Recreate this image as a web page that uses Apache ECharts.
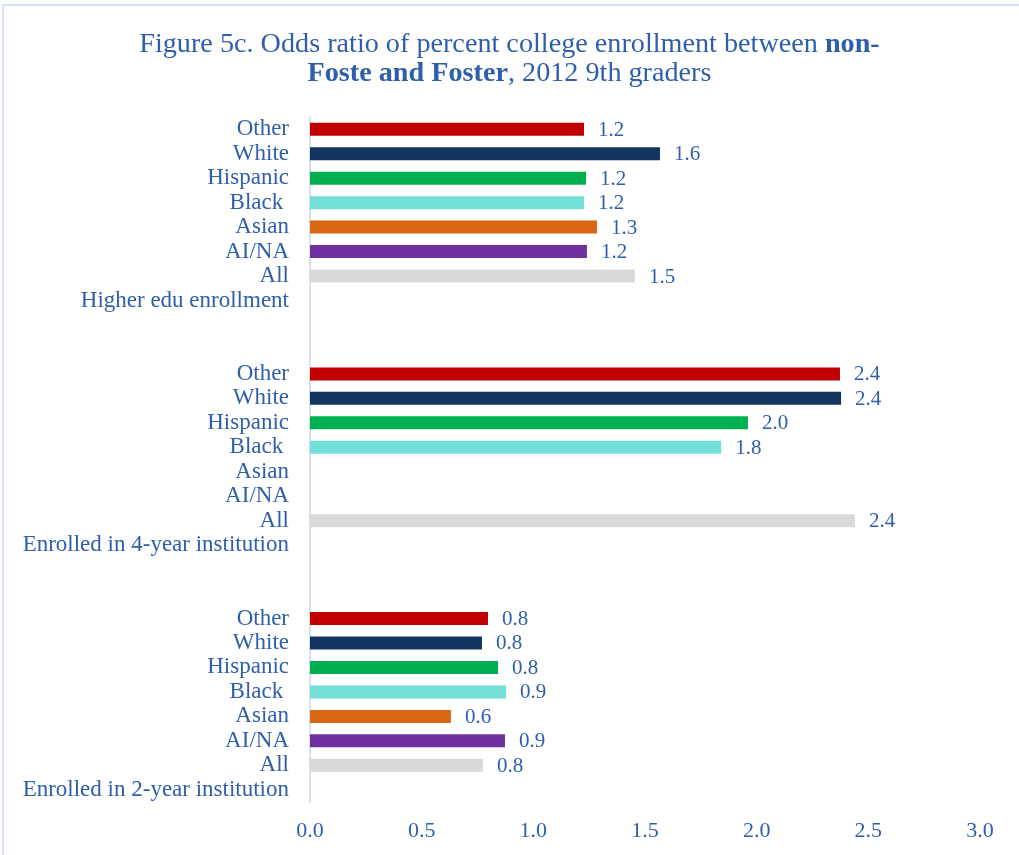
<!DOCTYPE html>
<html>
<head>
<meta charset="utf-8">
<script src="https://cdn.jsdelivr.net/npm/echarts@6/dist/echarts.min.js"></script>
<style>
html,body{margin:0;padding:0;background:#fff;}
#main{width:1019px;height:855px;}
</style>
</head>
<body>
<div id="main"></div>
<script>
// Data (top to bottom as drawn)
const groups = ['Higher edu enrollment', 'Enrolled in 4-year institution', 'Enrolled in 2-year institution'];
const races = ['Other', 'White', 'Hispanic', 'Black ', 'Asian', 'AI/NA', 'All'];
const higherEdu = [1.227, 1.567, 1.236, 1.227, 1.285, 1.240, 1.455];
const fourYear = [2.373, 2.378, 1.961, 1.841, null, null, 2.44];
const twoYear = [0.797, 0.770, 0.842, 0.878, 0.631, 0.873, 0.775];
const xTicks = [0.0, 0.5, 1.0, 1.5, 2.0, 2.5, 3.0];

const raceColors = {
  'Other': '#C00000', 'White': '#12345F', 'Hispanic': '#00B050', 'Black ': '#72E0D7',
  'Asian': '#D86613', 'AI/NA': '#7030A0', 'All': '#D9D9D9'
};
const textColor = '#2F5FAA';
const font = 'Liberation Serif';

const groupValues = [higherEdu, fourYear, twoYear];
const cats = [];
const barData = [];
groups.forEach((g, gi) => {
  if (gi > 0) { cats.push(''); barData.push(null); cats.push(' '); barData.push(null); }
  races.forEach((r, ri) => {
    cats.push(r);
    const v = groupValues[gi][ri];
    barData.push(v == null ? null : { value: v, itemStyle: { color: raceColors[r] } });
  });
  cats.push(g); barData.push(null);
});

const chart = echarts.init(document.getElementById('main'));
chart.setOption({
  backgroundColor: '#fff',
  animation: false,
  graphic: [{
    type: 'rect', shape: { x: 3, y: 5, width: 1100, height: 1000 },
    style: { fill: 'none', stroke: '#DAE3F3', lineWidth: 2 }, z: -10
  }],
  title: {
    left: 'center', top: 25,
    text: '{n|Figure 5c. Odds ratio of percent college enrollment between }{b|non-}\n{b|Foste and Foster}{n|, 2012 9th graders}',
    textStyle: {
      fontWeight: 'normal',
      rich: {
        n: { fontFamily: font, fontSize: 28.2, color: textColor, fontWeight: 'normal', lineHeight: 29 },
        b: { fontFamily: font, fontSize: 28.2, color: textColor, fontWeight: 'bold', lineHeight: 29 }
      }
    }
  },
  grid: { left: 310, right: 39, top: 117, bottom: 53, containLabel: false },
  xAxis: {
    type: 'value', min: xTicks[0], max: xTicks[xTicks.length - 1], interval: 0.5,
    axisLine: { show: false }, axisTick: { show: false }, splitLine: { show: false },
    axisLabel: { color: textColor, fontFamily: font, fontSize: 22, margin: 18,
      formatter: v => v.toFixed(1) }
  },
  yAxis: {
    type: 'category', inverse: true, data: cats,
    axisLine: { show: true, lineStyle: { color: '#D6E0F2', width: 2 } },
    axisTick: { show: false },
    axisLabel: { color: textColor, fontFamily: font, fontSize: 23, margin: 21, interval: 0 }
  },
  series: [{
    type: 'bar', data: barData, barWidth: 13,
    label: { show: true, position: 'right', distance: 14, color: textColor, fontFamily: font, fontSize: 21,
      offset: [0, 1], formatter: p => p.value.toFixed(1) }
  }]
});
</script>
</body>
</html>
